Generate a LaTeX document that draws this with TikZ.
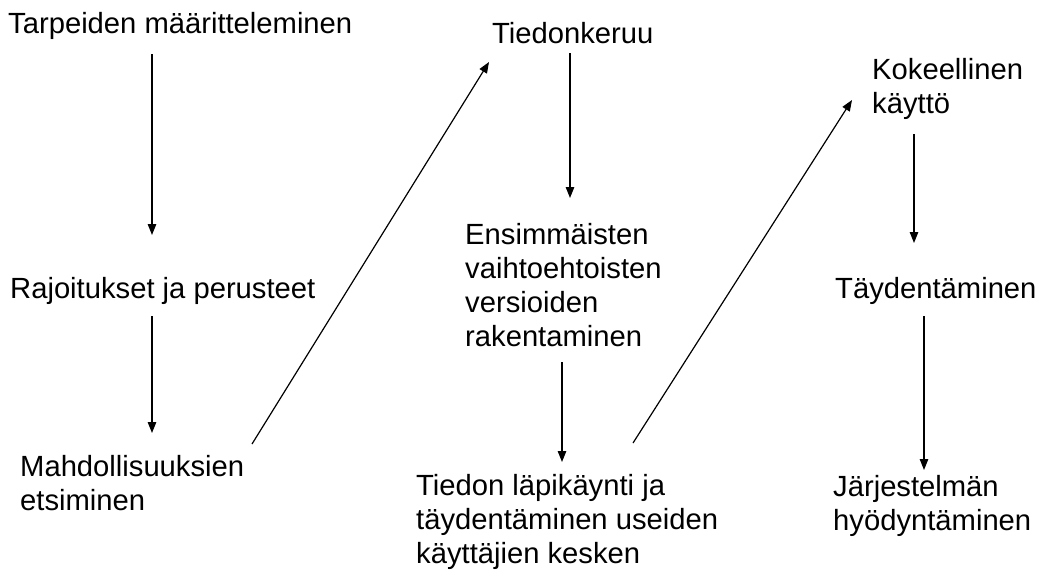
\documentclass[tikz,border=0pt]{standalone}
\usepackage{fontspec}
\setmainfont{Liberation Sans}
\usetikzlibrary{arrows.meta}
\tikzset{
  lbl/.style={anchor=base west, inner sep=0pt, align=left, font=\fontsize{29.2}{33.7}\selectfont},
  arr/.style={draw=black, line width=1.2pt, -{Triangle[length=11pt,width=8.5pt]}},
}
\begin{document}
\begin{tikzpicture}[x=1pt,y=-1pt]
\useasboundingbox (0,0) rectangle (1038,571);
\node[lbl] (tarp) at (8,33) {Tarpeiden määritteleminen};
\node[lbl] (rajo) at (10,298) {Rajoitukset ja perusteet};
\node[lbl] (mahd) at (20,510) {Mahdollisuuksien\\etsiminen};
\node[lbl] (tied) at (492,43) {Tiedonkeruu};
\node[lbl] (ensi) at (465,346) {Ensimmäisten\\vaihtoehtoisten\\versioiden\\rakentaminen};
\node[lbl] (lapi) at (416,563) {Tiedon läpikäynti ja\\täydentäminen useiden\\käyttäjien kesken};
\node[lbl] (koke) at (872,113) {Kokeellinen\\käyttö};
\node[lbl] (tayd) at (835,298) {Täydentäminen};
\node[lbl] (jarj) at (833,530) {Järjestelmän\\hyödyntäminen};
\coordinate (a1s) at (152,54);  \coordinate (a1e) at (152,235);
\coordinate (a2s) at (152,316); \coordinate (a2e) at (152,433);
\coordinate (a3s) at (252,444); \coordinate (a3e) at (489,62);
\coordinate (a4s) at (570,53);  \coordinate (a4e) at (570,198);
\coordinate (a5s) at (562,362); \coordinate (a5e) at (562,462);
\coordinate (a6s) at (633,443); \coordinate (a6e) at (852,100);
\coordinate (a7s) at (914,134); \coordinate (a7e) at (914,243);
\coordinate (a8s) at (924,316); \coordinate (a8e) at (924,470);
\draw[arr] (a1s) -- (a1e);
\draw[arr] (a2s) -- (a2e);
\draw[arr] (a3s) -- (a3e);
\draw[arr] (a4s) -- (a4e);
\draw[arr] (a5s) -- (a5e);
\draw[arr] (a6s) -- (a6e);
\draw[arr] (a7s) -- (a7e);
\draw[arr] (a8s) -- (a8e);
\end{tikzpicture}
\end{document}
